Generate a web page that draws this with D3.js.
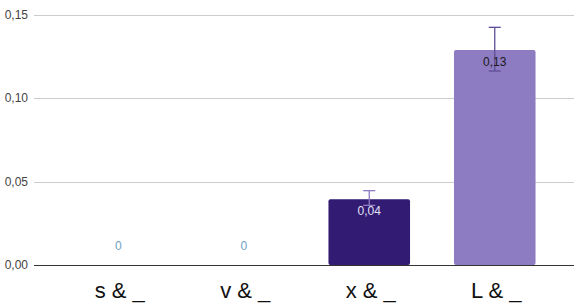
<!DOCTYPE html>
<meta charset="utf-8">
<style>
body { margin: 0; background: #fff; }
svg { display: block; font-family: "Liberation Sans", Arial, sans-serif; }
</style>
<svg width="574" height="304"></svg>
<script src="https://cdnjs.cloudflare.com/ajax/libs/d3/7.8.5/d3.min.js"></script>
<script>
var categories = ["s & _", "v & _", "x & _", "L & _"];
var values = [0, 0, 0.0394, 0.129];
var errLow = [0, 0, 0.0358, 0.1164];
var errHigh = [0, 0, 0.0446, 0.1426];
var barColors = ["#311b73", "#311b73", "#311b73", "#8e7cc3"];
var errColors = ["#8e7cc3", "#8e7cc3", "#8e7cc3", "#5e4e96"];
var labelColors = ["#6fa1c4", "#6fa1c4", "#e6e1f5", "#1a1a1a"];
var yTicks = [0, 0.05, 0.10, 0.15];

var svg = d3.select("svg"),
    width = +svg.attr("width"),
    height = +svg.attr("height");

var y = d3.scaleLinear().domain([0, 0.15]).range([265, 15]);
var x = d3.scaleBand().domain(categories).range([55.5, 557.5]).paddingInner(0.35).paddingOuter(0.175);

var fmt = function(v) { return d3.format(".2f")(v).replace(".", ","); };

// gridlines
svg.append("g").selectAll("line")
  .data(yTicks.slice(1))
  .enter().append("line")
    .attr("x1", 34).attr("x2", width)
    .attr("y1", function(d) { return Math.round(y(d)) + 0.5; })
    .attr("y2", function(d) { return Math.round(y(d)) + 0.5; })
    .attr("stroke", "#cccccc");

svg.append("g").selectAll("text")
  .data(yTicks)
  .enter().append("text")
    .attr("x", 28).attr("y", function(d) { return y(d) + 4; })
    .attr("text-anchor", "end")
    .attr("font-size", 12).attr("fill", "#444")
    .text(fmt);

// bars
svg.append("g").selectAll("rect")
  .data(categories)
  .enter().append("rect")
    .attr("x", function(d) { return x(d); })
    .attr("width", x.bandwidth())
    .attr("y", function(d, i) { return y(values[i]); })
    .attr("height", function(d, i) { return y(0) - y(values[i]); })
    .attr("rx", 2)
    .attr("fill", function(d, i) { return barColors[i]; });

// error bars
var eb = svg.append("g").selectAll("g")
  .data(categories.filter(function(d, i) { return values[i] > 0; }))
  .enter().append("g")
    .attr("stroke", function(d) { return errColors[categories.indexOf(d)]; })
    .attr("stroke-width", 1.3);
eb.append("line")
  .attr("x1", function(d) { return x(d) + x.bandwidth() / 2; })
  .attr("x2", function(d) { return x(d) + x.bandwidth() / 2; })
  .attr("y1", function(d) { return y(errLow[categories.indexOf(d)]); })
  .attr("y2", function(d) { return y(errHigh[categories.indexOf(d)]); });
eb.append("line")
  .attr("x1", function(d) { return x(d) + x.bandwidth() / 2 - 6; })
  .attr("x2", function(d) { return x(d) + x.bandwidth() / 2 + 6; })
  .attr("y1", function(d) { return y(errLow[categories.indexOf(d)]); })
  .attr("y2", function(d) { return y(errLow[categories.indexOf(d)]); });
eb.append("line")
  .attr("x1", function(d) { return x(d) + x.bandwidth() / 2 - 6; })
  .attr("x2", function(d) { return x(d) + x.bandwidth() / 2 + 6; })
  .attr("y1", function(d) { return y(errHigh[categories.indexOf(d)]); })
  .attr("y2", function(d) { return y(errHigh[categories.indexOf(d)]); });

// value labels
svg.append("g").selectAll("text")
  .data(categories)
  .enter().append("text")
    .attr("x", function(d) { return x(d) + x.bandwidth() / 2; })
    .attr("y", function(d, i) { return values[i] > 0 ? y(values[i]) + 16 : y(0) - 15; })
    .attr("text-anchor", "middle")
    .attr("font-size", 12)
    .attr("fill", function(d, i) { return labelColors[i]; })
    .text(function(d, i) { return values[i] > 0 ? fmt(values[i]) : "0"; });

// baseline
svg.append("line")
  .attr("x1", 34).attr("x2", width)
  .attr("y1", y(0) + 0.5).attr("y2", y(0) + 0.5)
  .attr("stroke", "#333").attr("stroke-width", 1.2);

// category labels
svg.append("g").selectAll("text")
  .data(categories)
  .enter().append("text")
    .attr("x", function(d) { return x(d) + x.bandwidth() / 2 + 1.5; })
    .attr("y", 298)
    .attr("text-anchor", "middle")
    .attr("font-size", 22).attr("fill", "#111")
    .text(function(d) { return d; });
</script>
